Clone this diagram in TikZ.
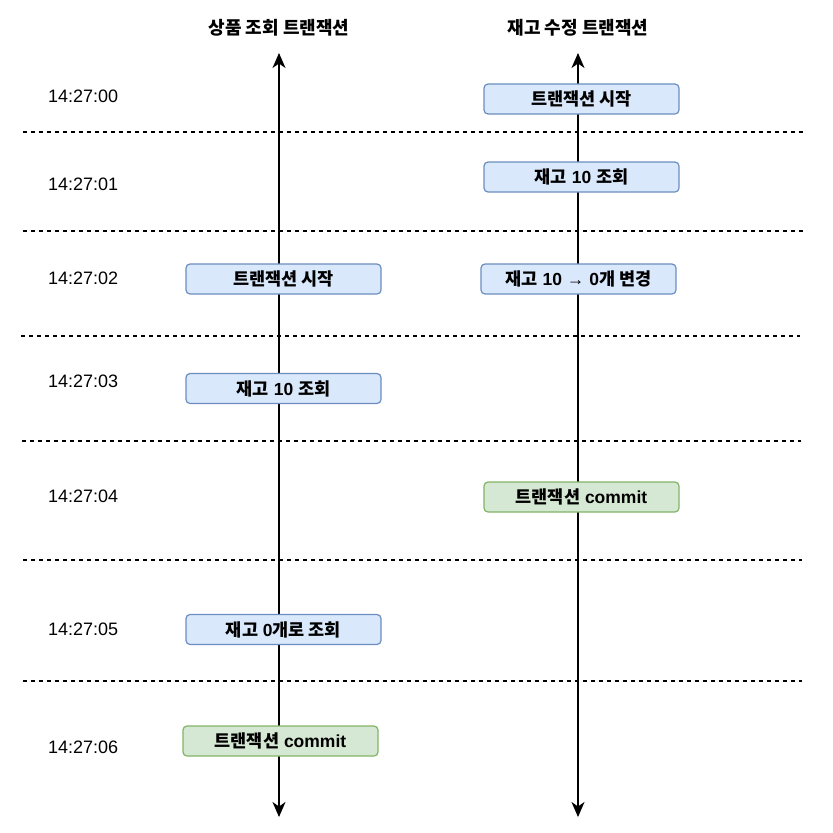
\documentclass[tikz,border=0pt]{standalone}
\usepackage{fontspec}
\setmainfont{Liberation Sans}
\newfontfamily\kr{Noto Sans CJK KR}
\usetikzlibrary{arrows.meta}
\newcommand{\K}[1]{{\kr #1}}
\tikzset{
  timelbl/.style={anchor=west, font=\fontsize{18}{20}\selectfont, inner sep=0pt},
  title/.style={font=\fontsize{18}{20}\selectfont\bfseries, inner sep=0pt},
  evbox/.style={rounded corners=4pt, minimum width=195pt, minimum height=30pt,
    inner sep=0pt, font=\fontsize{17.5}{20}\selectfont\bfseries, line width=1.2pt},
  bluebox/.style={evbox, fill=boxblue, draw=boxbluedraw},
  greenbox/.style={evbox, fill=boxgreen, draw=boxgreendraw},
  sep/.style={dash pattern=on 4pt off 4pt, line width=1.1pt},
  axis/.style={line width=1.5pt, {Stealth[length=15pt,width=13pt,inset=4.5pt]}-{Stealth[length=15pt,width=13pt,inset=4.5pt]}}
}
\definecolor{boxblue}{HTML}{DAE8FC}
\definecolor{boxbluedraw}{HTML}{6C8EBF}
\definecolor{boxgreen}{HTML}{D5E8D4}
\definecolor{boxgreendraw}{HTML}{82B366}
\begin{document}
\begin{tikzpicture}[x=1pt,y=-1pt]
\useasboundingbox (0,0) rectangle (833,833);
% titles
\node[title] (t1) at (279,28) {\K{상품 조회 트랜잭션}};
\node[title] (t2) at (578,28) {\K{재고 수정 트랜잭션}};
% separators
\coordinate (s1a) at (23,132); \coordinate (s1b) at (803,132);
\coordinate (s2a) at (23,231); \coordinate (s2b) at (803,231);
\coordinate (s3a) at (21,336); \coordinate (s3b) at (800,336);
\coordinate (s4a) at (22,441); \coordinate (s4b) at (801,441);
\coordinate (s5a) at (23,560); \coordinate (s5b) at (802,560);
\coordinate (s6a) at (23,681); \coordinate (s6b) at (802,681);
\foreach \i in {1,...,6} \draw[sep] (s\i a) -- (s\i b);
% axes
\coordinate (lt) at (279,53); \coordinate (lb) at (279,817);
\coordinate (rt) at (578,53); \coordinate (rb) at (578,817);
\draw[axis] (lt) -- (lb);
\draw[axis] (rt) -- (rb);
% time labels
\node[timelbl] (h0) at (48,96) {14:27:00};
\node[timelbl] (h1) at (48,184) {14:27:01};
\node[timelbl] (h2) at (48,278) {14:27:02};
\node[timelbl] (h3) at (48,381) {14:27:03};
\node[timelbl] (h4) at (48,496) {14:27:04};
\node[timelbl] (h5) at (48,629) {14:27:05};
\node[timelbl] (h6) at (48,747) {14:27:06};
% left column
\node[bluebox] (l1) at (283.5,279) {\K{트랜잭션 시작}};
\node[bluebox] (l2) at (283.5,388.5) {\K{재고} 10 \K{조회}};
\node[bluebox] (l3) at (283.5,629.5) {\K{재고} 0\K{개로 조회}};
\node[greenbox] (l4) at (280.5,741) {\K{트랜잭션} commit};
% right column
\node[bluebox] (r1) at (581.5,99) {\K{트랜잭션 시작}};
\node[bluebox] (r2) at (581.5,177) {\K{재고} 10 \K{조회}};
\node[bluebox] (r3) at (578.5,279) {\K{재고} 10 → 0\K{개 변경}};
\node[greenbox] (r4) at (581.5,497) {\K{트랜잭션} commit};
\end{tikzpicture}
\end{document}
